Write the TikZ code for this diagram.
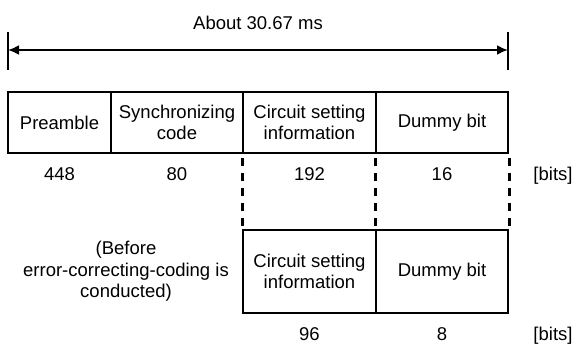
\documentclass[tikz,border=0pt]{standalone}
\usepackage{fontspec}
\setmainfont{Liberation Sans}
\usetikzlibrary{arrows.meta}
\begin{document}
\begin{tikzpicture}[x=1pt,y=-1pt,
  txt/.style={font=\fontsize{18.5}{21}\selectfont, inner sep=0pt, align=center},
  cell/.style={txt, draw, line width=2pt, minimum height=61pt},
  bcell/.style={txt, draw, line width=2pt, minimum height=83pt},
  dline/.style={line width=3pt, dash pattern=on 8pt off 7pt, shorten <=4pt, shorten >=3pt},
  tick/.style={line width=2pt},
  span/.style={line width=2pt, {Latex[length=11pt,width=10pt]}-{Latex[length=11pt,width=10pt]}}
]
\useasboundingbox (0,0) rectangle (576,343);

% title and span arrow
\node[txt] (title) at (258,23) {About 30.67 ms};
\coordinate (tlt) at (8,32);
\coordinate (tlb) at (8,70);
\coordinate (trt) at (508,32);
\coordinate (trb) at (508,70);
\draw[tick] (tlt) -- (tlb);
\draw[tick] (trt) -- (trb);
\coordinate (aL) at (8,50);
\coordinate (aR) at (508,50);
\draw[span] (aL) -- (aR);

% top frame
\node[cell, minimum width=103pt] (pre) at (59.5,122.5) {Preamble};
\node[cell, minimum width=132pt] (sync) at (177,122.5) {Synchronizing\\code};
\node[cell, minimum width=133pt] (circ) at (309.5,122.5) {Circuit setting\\information};
\node[cell, minimum width=132pt] (dummy) at (442,122.5) {Dummy bit};

% top bit counts
\node[txt, anchor=base] (n1) at (59.5,180) {448};
\node[txt, anchor=base] (n2) at (177,180) {80};
\node[txt, anchor=base] (n3) at (309.5,180) {192};
\node[txt, anchor=base] (n4) at (442,180) {16};
\node[txt, anchor=base] (u1) at (553,180) {[bits]};

% bottom frame
\node[bcell, minimum width=133pt] (bcirc) at (309.5,271.5) {Circuit setting\\information};
\node[bcell, minimum width=132pt] (bdummy) at (442,271.5) {Dummy bit};

% dashed correspondences
\draw[dline] (circ.south west) -- (bcirc.north west);
\draw[dline] (dummy.south west) -- (bdummy.north west);
\draw[dline] (dummy.south east) -- (bdummy.north east);

% left note
\node[txt, font=\fontsize{18.5}{21.5}\selectfont] (note) at (126,271.5) {(Before\\error-correcting-coding is\\conducted)};

% bottom bit counts
\node[txt, anchor=base] (m1) at (309.5,340) {96};
\node[txt, anchor=base] (m2) at (442,340) {8};
\node[txt, anchor=base] (u2) at (553,340) {[bits]};
\end{tikzpicture}
\end{document}
